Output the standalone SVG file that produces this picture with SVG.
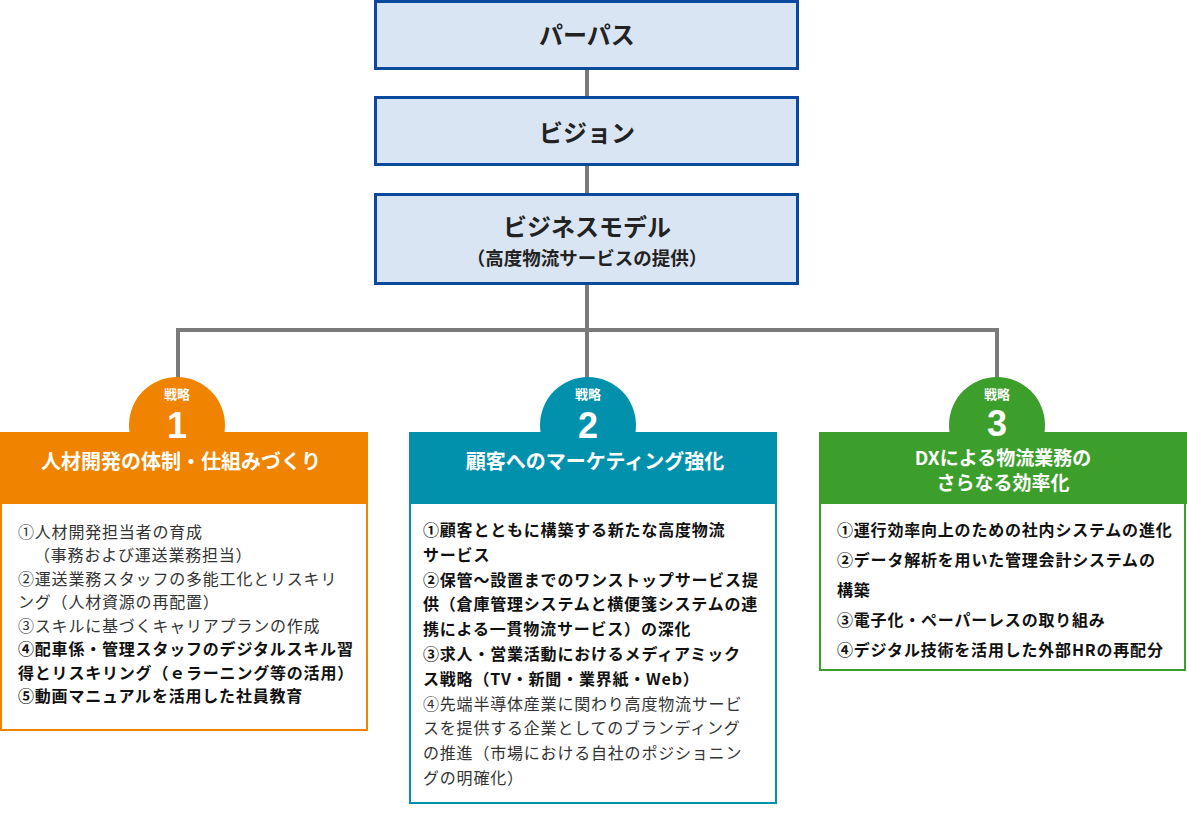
<svg xmlns="http://www.w3.org/2000/svg" width="1187" height="825" viewBox="0 0 1187 825">
<style>
text{font-family:"Noto Sans CJK JP","Noto Sans",sans-serif}
.top{fill:#dae5f4;stroke:#0a4a9c;stroke-width:3}
.tt{font-size:24px;font-weight:700;fill:#222;text-anchor:middle}
.ts{font-size:18.5px;font-weight:700;fill:#222;text-anchor:middle}
.conn{stroke:#7a7a7a;stroke-width:4;fill:none}
.w1{font-size:13px;font-weight:700;fill:#fff;text-anchor:middle}
.num{font-size:36px;font-weight:700;fill:#fff;text-anchor:middle;font-family:"Liberation Sans","Noto Sans",sans-serif}
.hd{font-size:20px;font-weight:700;fill:#fff;text-anchor:middle}
.b{font-size:16px;letter-spacing:0.8px;fill:#333}
.bb{font-size:16px;letter-spacing:0.8px;fill:#111;font-weight:700}
</style>
<g id="connectors">
<line class="conn" x1="587" y1="70" x2="587" y2="97"/>
<line class="conn" x1="587" y1="166" x2="587" y2="193"/>
<line class="conn" x1="587" y1="285" x2="587" y2="380"/>
<polyline class="conn" points="178,380 178,330 997,330 997,380"/>
</g>
<g id="purpose">
<rect class="top" x="375.5" y="1.5" width="422" height="67"/>
<text class="tt" x="587" y="44">パーパス</text>
</g>
<g id="vision">
<rect class="top" x="375.5" y="97.5" width="422" height="67"/>
<text class="tt" x="587" y="142">ビジョン</text>
</g>
<g id="business-model">
<rect class="top" x="375.5" y="194.5" width="422" height="89"/>
<text class="tt" x="587" y="236">ビジネスモデル</text>
<text class="ts" x="587" y="265">（高度物流サービスの提供）</text>
</g>
<g id="strategy1">
<circle cx="177" cy="425" r="48" fill="#f08300"/>
<rect x="0" y="432" width="368" height="72" fill="#f08300"/>
<rect x="1" y="503" width="366" height="227" fill="#fff" stroke="#f08300" stroke-width="2"/>
<text class="w1" x="177" y="399">戦略</text>
<text class="num" x="177" y="438">1</text>
<text class="hd" x="181" y="469">人材開発の体制・仕組みづくり</text>
<text class="b" x="18" y="538">①人材開発担当者の育成</text>
<text class="b" x="34" y="561">（事務および運送業務担当）</text>
<text class="b" x="18" y="585">②運送業務スタッフの多能工化とリスキリ</text>
<text class="b" x="18" y="608">ング（人材資源の再配置）</text>
<text class="b" x="18" y="632">③スキルに基づくキャリアプランの作成</text>
<text class="bb" x="18" y="655">④配車係・管理スタッフのデジタルスキル習</text>
<text class="bb" x="18" y="679">得とリスキリング（ｅラーニング等の活用）</text>
<text class="bb" x="18" y="702">⑤動画マニュアルを活用した社員教育</text>
</g>
<g id="strategy2">
<circle cx="588" cy="425" r="48" fill="#0291ad"/>
<rect x="409" y="432" width="368" height="72" fill="#0291ad"/>
<rect x="410" y="503" width="366" height="300" fill="#fff" stroke="#0291ad" stroke-width="2"/>
<text class="w1" x="588" y="399">戦略</text>
<text class="num" x="588" y="438">2</text>
<text class="hd" x="595" y="469">顧客へのマーケティング強化</text>
<text class="bb" x="423" y="536">①顧客とともに構築する新たな高度物流</text>
<text class="bb" x="423" y="561">サービス</text>
<text class="bb" x="423" y="586">②保管～設置までのワンストップサービス提</text>
<text class="bb" x="423" y="610">供（倉庫管理システムと横便箋システムの連</text>
<text class="bb" x="423" y="635">携による一貫物流サービス）の深化</text>
<text class="bb" x="423" y="660">③求人・営業活動におけるメディアミック</text>
<text class="bb" x="423" y="685">ス戦略（TV・新聞・業界紙・Web）</text>
<text class="b" x="423" y="710">④先端半導体産業に関わり高度物流サービ</text>
<text class="b" x="423" y="734">スを提供する企業としてのブランディング</text>
<text class="b" x="423" y="759">の推進（市場における自社のポジショニン</text>
<text class="b" x="423" y="784">グの明確化）</text>
</g>
<g id="strategy3">
<circle cx="997" cy="425" r="48" fill="#3c9e2b"/>
<rect x="819" y="432" width="368" height="72" fill="#3c9e2b"/>
<rect x="820" y="503" width="365" height="167" fill="#fff" stroke="#3c9e2b" stroke-width="2"/>
<text class="w1" x="997" y="399">戦略</text>
<text class="num" x="997" y="436">3</text>
<text class="hd" style="font-size:19px"><tspan x="1003" y="465">DXによる物流業務の</tspan><tspan x="1003" y="490">さらなる効率化</tspan></text>
<text class="bb" x="837" y="536">①運行効率向上のための社内システムの進化</text>
<text class="bb" x="837" y="566">②データ解析を用いた管理会計システムの</text>
<text class="bb" x="837" y="596">構築</text>
<text class="bb" x="837" y="626">③電子化・ペーパーレスの取り組み</text>
<text class="bb" x="837" y="656">④デジタル技術を活用した外部HRの再配分</text>
</g>
</svg>
